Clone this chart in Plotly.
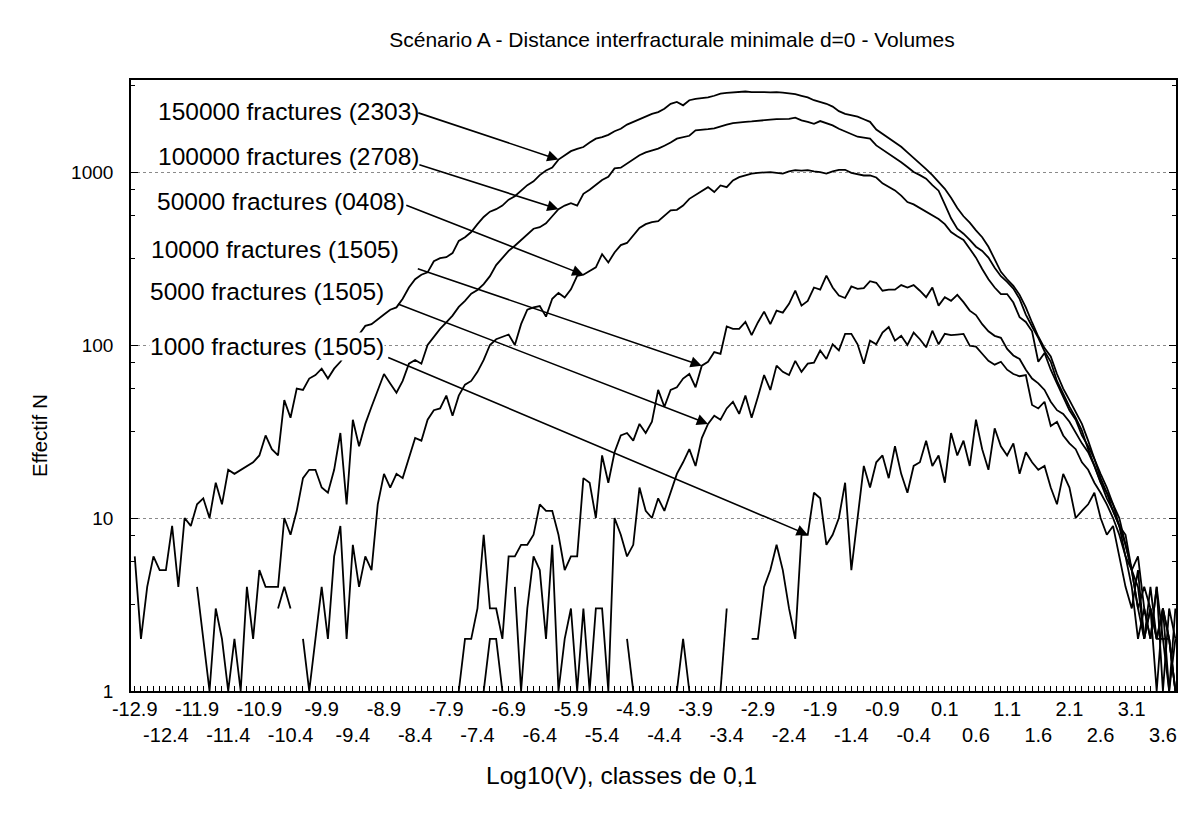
import math
import plotly.graph_objects as go

# Volume classes: log10(V) from -12.9 to 3.8, width 0.1
classes = [round(-12.9 + 0.1 * i, 1) for i in range(168)]

N = None  # empty class (no fracture counted)

n150000 = [
    6, 2, 4, 6, 5, 5, 9, 4, 10, 9,
    12, 13, 10, 16, 12, 19, 18, 19, 20, 21,
    23, 30, 25, 23, 48, 38, 56, 55, 64, 67,
    73, 64, 73, 80, 90, 100, 115, 129, 132, 140,
    150, 160, 165, 185, 215, 240, 255, 263, 305, 318,
    322, 340, 400, 420, 450, 500, 550, 590, 610, 640,
    692, 725, 781, 840, 883, 960, 1020, 1060, 1180, 1250,
    1320, 1360, 1395, 1480, 1560, 1590, 1640, 1720, 1780, 1880,
    1950, 2030, 2090, 2170, 2220, 2320, 2480, 2540, 2430, 2600,
    2650, 2680, 2700, 2760, 2840, 2870, 2890, 2900, 2920, 2900,
    2910, 2900, 2890, 2900, 2880, 2850, 2820, 2760, 2700, 2600,
    2540, 2480, 2390, 2250, 2170, 2130, 2090, 2020, 1950, 1760,
    1660, 1570, 1480, 1400, 1300, 1210, 1120, 1040, 960, 880,
    800, 710, 620, 555, 510, 460, 420, 370, 310, 265,
    240, 220, 195, 165, 135, 112, 96, 86, 68, 56,
    48, 41, 35, 28, 22, 18, 15, 12, 10, 7,
    5, 3, 4, 3, 2, 3, 2, 1,
]

n100000 = [
    N, N, N, N, N, N, N, N, N, N,
    4, 2, 1, 3, 2, 1, 2, 1, 4, 2,
    5, 4, 4, 4, 10, 8, 11, 17, 19, 19,
    15, 14, 19, 31, 12, 37, 26, 35, 44, 55,
    68, 60, 53, 62, 78, 82, 78, 100, 112, 124,
    135, 148, 166, 180, 198, 208, 225, 250, 290, 320,
    350, 375, 405, 440, 470, 480, 505, 555, 610, 640,
    660, 640, 748, 790, 840, 900, 940, 1050, 1060, 1120,
    1170, 1250, 1300, 1335, 1365, 1420, 1480, 1560, 1590, 1620,
    1740, 1750, 1770, 1790, 1840, 1880, 1920, 1940, 1950, 1960,
    1980, 2000, 2010, 2020, 2020, 2030, 2060, 1990, 1950, 1900,
    1970, 1920, 1860, 1780, 1720, 1650, 1600, 1580, 1560, 1425,
    1350, 1280, 1200, 1140, 1070, 1000, 960, 915, 840, 780,
    650, 540, 470, 440, 405, 370, 350, 320, 280, 250,
    232, 212, 185, 150, 128, 110, 92, 80, 62, 52,
    44, 38, 32, 25, 20, 16, 13, 11, 9, 6,
    4, 2, 3, 2, 4, 1, 3, 2,
]

n50000 = [
    N, N, N, N, N, N, N, N, N, N,
    N, N, N, N, N, N, N, N, N, N,
    N, N, N, 3, 4, 3, N, 2, 1, 2,
    4, 2, 6, 9, 2, 7, 4, 6, 5, 12,
    18, 15, 18, 17, 22, 29, 28, 37, 42, 43,
    51, 39, 51, 59, 62, 70, 82, 100, 108, 112,
    115, 100, 132, 160, 165, 168, 146, 185, 200, 188,
    210, 251, 255, 268, 281, 335, 300, 343, 378, 389,
    430, 475, 500, 514, 520, 560, 600, 605, 640, 700,
    740, 783, 818, 766, 837, 818, 895, 935, 960, 980,
    990, 995, 1000, 990, 980, 1010, 1025, 1020, 1025, 1010,
    1000, 980, 1010, 1030, 1030, 990, 975, 955, 955, 930,
    860, 820, 783, 730, 671, 650, 620, 587, 560, 535,
    500, 450, 425, 405, 360, 320, 275, 240, 215, 197,
    197, 176, 145, 136, 120, 80, 90, 72, 60, 50,
    42, 37, 30, 26, 22, 17, 14, 11, 9, 8,
    5, 4, 2, 3, 2, 2, 1, 3,
]

n10000 = [N] * 50 + [
    N, N, 1, 2, 2, 3, 8, 3, 3, 2,
    6, 6, 7, 7, 8, 12, 11, 11, 8, 5,
    6, 6, 17, 16, 10, 23, 16, 24, 30, 31,
    28, 35, 31, 36, 55, 44, 55, 57, 64, 68,
    57, 76, 80, 91, 89, 128, 124, 124, 136, 114,
    135, 156, 132, 158, 154, 173, 206, 169, 180, 215,
    209, 252, 215, 193, 187, 218, 211, 213, 234, 229,
    206, 209, 209, 222, 215, 222, 206, 189, 215, 169,
    189, 180, 195, 177, 158, 149, 132, 120, 113, 110,
    95, 87, 83, 72, 64, 60, 55, 47, 42, 40,
    36, 31, 27, 24, 20, 16, 14, 12, 9, 7,
    5, 6, 3, 2, 4, 2, 2, 1,
]

n5000 = [N] * 50 + [
    N, N, N, N, N, N, 1, 2, 2, 1,
    N, 4, 1, 3, 6, 5, 2, 7, 1, 2,
    3, 1, 3, 1, 3, 3, 1, 10, 8, 6,
    7, 15, 11, 10, 13, 11, 14, 18, 21, 25,
    20, 29, 35, 39, 37, 43, 47, 40, 51, 38,
    50, 67, 55, 76, 70, 67, 81, 70, 78, 79,
    93, 83, 101, 93, 116, 116, 101, 78, 106, 101,
    118, 127, 106, 113, 100, 118, 108, 97, 121, 101,
    116, 114, 115, 116, 99, 98, 89, 81, 77, 80,
    72, 68, 66, 67, 45, 43, 47, 34, 36, 30,
    27, 25, 21, 19, 16, 14, 12, 10, 8, 6,
    5, 3, 2, 4, 2, 3, 1, 2,
]

n1000 = [N] * 79 + [
    2, 1, N, N, N, N, N, N, 1, 2, 1,
    N, N, N, N, 1, 3, N, N, N,
    2, 2, 4, 5, 7, 5, 3, 2, 8, 8, 14,
    13, 7, 8, 10, 16, 5, 10, 20, 15, 21,
    23, 17, 26, 18, 14, 20, 21, 28, 20, 23,
    16, 31, 23, 28, 20, 37, 25, 19, 33, 26,
    23, 27, 18, 24, 21, 19, 20, 15, 12, 18,
    15, 10, 11, 12, 14, 10, 8, 9, 6, 4,
    3, 5, 2, 3, 1, 3, 2, 1,
]

series = [
    ("150000 fractures (2303)", n150000),
    ("100000 fractures (2708)", n100000),
    ("50000 fractures (0408)", n50000),
    ("10000 fractures (1505)", n10000),
    ("5000 fractures (1505)", n5000),
    ("1000 fractures (1505)", n1000),
]

# Labelled x ticks every 0.5, staggered on two rows
tick_values = [round(-12.9 + 0.5 * i, 1) for i in range(34)]
tick_text = [f"{v:g}" if i % 2 == 0 else f"<br>{v:g}" for i, v in enumerate(tick_values)]

X_RANGE = [-12.96, 3.81]
Y_RANGE = [0.0, 3.532]  # log10 units

FONT = "Liberation Sans, Arial, Helvetica, sans-serif"

fig = go.Figure()
for name, values in series:
    fig.add_trace(go.Scatter(
        x=classes, y=values, mode="lines", name=name,
        line=dict(color="black", width=1.8),
        connectgaps=False, showlegend=False,
    ))

# Label box (left edge, vertical centre) and arrow tail, both in paper fractions,
# plus the class at which each arrow meets its curve.
callouts = [
    (0, (0.0246, 0.948), (0.2735, 0.947), -6.1),
    (1, (0.0246, 0.8745), (0.2745, 0.862), -6.1),
    (2, (0.0239, 0.8008), (0.2620, 0.796), -5.7),
    (3, (0.0182, 0.7218), (0.273, 0.692), -3.8),
    (4, (0.0175, 0.6535), (0.254, 0.6345), -3.7),
    (5, (0.0175, 0.5635), (0.2447, 0.547), -2.1),
]

annotations = []
for idx, (lx, ly), (tx, ty), tip_class in callouts:
    name, values = series[idx]
    annotations.append(dict(
        text=name, x=lx, y=ly, xref="paper", yref="paper",
        xanchor="left", yanchor="middle", showarrow=False,
        bgcolor="white", borderpad=0,
        font=dict(family=FONT, size=24.5, color="black"),
    ))

for idx, (lx, ly), (tx, ty), tip_class in callouts:
    name, values = series[idx]
    k = classes.index(tip_class)
    annotations.append(dict(
        text="", x=tip_class, y=math.log10(values[k]), xref="x", yref="y",
        ax=X_RANGE[0] + tx * (X_RANGE[1] - X_RANGE[0]),
        ay=Y_RANGE[0] + ty * (Y_RANGE[1] - Y_RANGE[0]),
        axref="x", ayref="y", showarrow=True,
        arrowhead=2, arrowsize=1.4, arrowwidth=1.6, arrowcolor="black", standoff=0,
    ))

annotations.append(dict(
    text="Log10(V), classes de 0,1", x=0.4694, y=-0.1375, xref="paper", yref="paper",
    xanchor="center", yanchor="middle", showarrow=False,
    font=dict(family=FONT, size=24.5, color="black"),
))
annotations.append(dict(
    text="Effectif N", x=-0.0871, y=0.419, xref="paper", yref="paper",
    xanchor="center", yanchor="middle", showarrow=False, textangle=-90,
    font=dict(family=FONT, size=20.5, color="black"),
))

y_minor = [10 ** (n + f) for n in range(4) for f in (0.5, 0.75, 0.9) if n + f < Y_RANGE[1]]

fig.update_layout(
    width=1195, height=814,
    margin=dict(l=131, r=19, t=80, b=123),
    paper_bgcolor="white", plot_bgcolor="white",
    font=dict(family=FONT, size=19, color="black"),
    title=dict(
        text="Scénario A - Distance interfracturale minimale d=0 - Volumes",
        x=0.5177, xref="paper", xanchor="center",
        y=1 - 40 / 814, yref="container", yanchor="middle",
        font=dict(family=FONT, size=21, color="black"),
    ),
    xaxis=dict(
        range=X_RANGE, tickmode="array", tickvals=tick_values, ticktext=tick_text,
        tickangle=0, ticklabelstandoff=-1,
        ticks="inside", ticklen=5, tickwidth=1, tickcolor="black",
        showline=True, linecolor="black", linewidth=1.6, mirror=True,
        showgrid=False, zeroline=False,
        tickfont=dict(family=FONT, size=20, color="black"),
        minor=dict(tick0=-12.9, dtick=0.1, ticks="inside", ticklen=5,
                   tickcolor="black", tickwidth=1, showgrid=False),
    ),
    yaxis=dict(
        type="log", range=Y_RANGE, tickmode="array",
        tickvals=[1, 10, 100, 1000], ticktext=["1", "10", "100", "1000"],
        ticks="inside", ticklen=7, tickwidth=1, tickcolor="black",
        showline=True, linecolor="black", linewidth=1.6, mirror="allticks",
        showgrid=True, gridcolor="#8a8a8a", griddash="dot", gridwidth=1,
        zeroline=False, ticklabelstandoff=12,
        tickfont=dict(family=FONT, size=19, color="black"),
        minor=dict(tickvals=y_minor, ticks="inside", ticklen=4,
                   tickcolor="black", tickwidth=1, showgrid=False),
    ),
    annotations=annotations,
)

fig.write_html("out.html")
